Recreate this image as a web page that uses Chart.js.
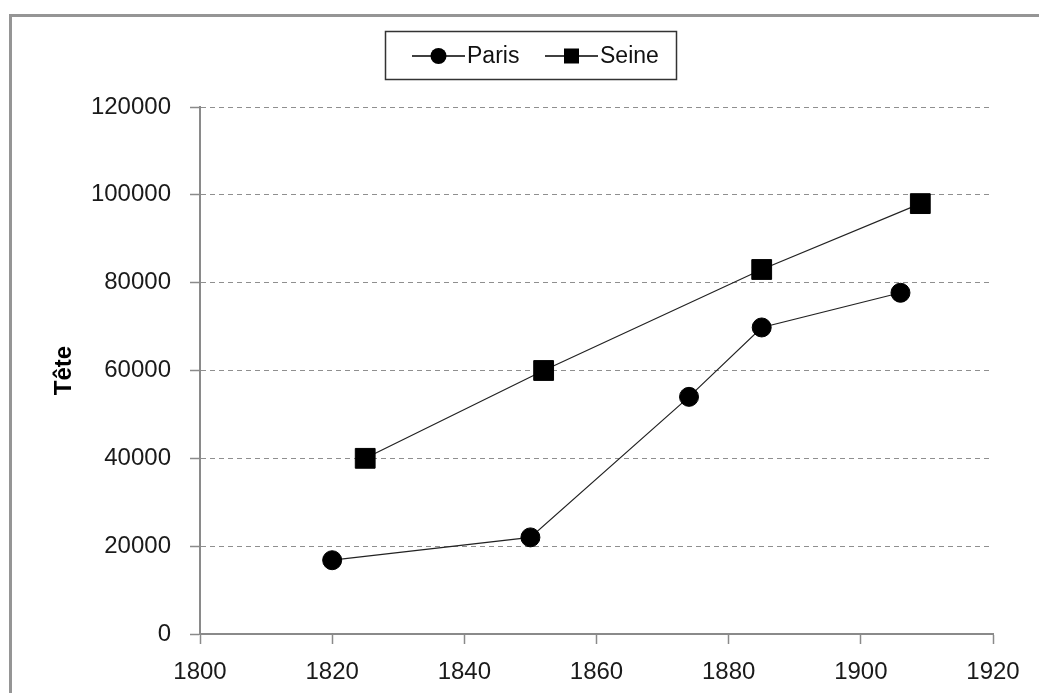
<!DOCTYPE html>
<html>
<head>
<meta charset="utf-8">
<script src="https://cdn.jsdelivr.net/npm/chart.js@4/dist/chart.umd.min.js"></script>
<style>
  html, body { margin: 0; padding: 0; background: #fff; }
  #wrap { position: relative; width: 1039px; height: 693px; }
</style>
</head>
<body>
<div id="wrap"><canvas id="chart"></canvas></div>
<script>
const parisYears = [1820, 1850, 1874, 1885, 1906];
const parisValues = [16800, 22000, 54000, 69800, 77700];
const seineYears = [1825, 1852, 1885, 1909];
const seineValues = [40000, 60000, 83000, 98000];
const seriesNames = ['Paris', 'Seine'];
const yTitle = 'Tête';

const toPoints = (xs, ys) => xs.map((x, i) => ({x: x, y: ys[i]}));

// grey frame on top and left, and the boxed legend
const decor = {
  id: 'decor',
  beforeDraw(chart) {
    const ctx = chart.ctx;
    ctx.save();
    ctx.strokeStyle = '#959595';
    ctx.lineWidth = 3;
    ctx.beginPath();
    ctx.moveTo(10.5, 700);
    ctx.lineTo(10.5, 15.5);
    ctx.lineTo(1045, 15.5);
    ctx.stroke();
    ctx.restore();
  },
  afterDraw(chart) {
    const ctx = chart.ctx;
    ctx.save();
    ctx.strokeStyle = '#333';
    ctx.lineWidth = 1.5;
    ctx.strokeRect(385.5, 31.5, 291, 48);

    const items = [
      {x: 412, style: 'circle', r: 8, text: seriesNames[0]},
      {x: 545, style: 'rect', r: 7.5, text: seriesNames[1]},
    ];
    const cy = 56;
    ctx.font = '23px "Liberation Sans", Arial, sans-serif';
    ctx.textBaseline = 'middle';
    items.forEach(it => {
      ctx.strokeStyle = '#000';
      ctx.lineWidth = 1.3;
      ctx.beginPath();
      ctx.moveTo(it.x, cy);
      ctx.lineTo(it.x + 53, cy);
      ctx.stroke();
      ctx.fillStyle = '#000';
      const mx = it.x + 26.5;
      if (it.style === 'circle') {
        ctx.beginPath();
        ctx.arc(mx, cy, it.r, 0, Math.PI * 2);
        ctx.fill();
      } else {
        ctx.fillRect(mx - it.r, cy - it.r, it.r * 2, it.r * 2);
      }
      ctx.fillStyle = '#111';
      ctx.fillText(it.text, it.x + 55, cy + 1);
    });
    ctx.restore();
  },
};

const ctx = document.getElementById('chart').getContext('2d');
new Chart(ctx, {
  type: 'line',
  data: {
    datasets: [
      {
        label: seriesNames[0],
        data: toPoints(parisYears, parisValues),
        borderColor: '#222',
        borderWidth: 1.2,
        pointStyle: 'circle',
        pointRadius: 9.5,
        pointBorderWidth: 1,
        pointBackgroundColor: '#000',
        pointBorderColor: '#000',
        fill: false,
        tension: 0,
      },
      {
        label: seriesNames[1],
        data: toPoints(seineYears, seineValues),
        borderColor: '#222',
        borderWidth: 1.2,
        pointStyle: 'rect',
        pointRadius: 14,
        pointBorderWidth: 1,
        pointBackgroundColor: '#000',
        pointBorderColor: '#000',
        fill: false,
        tension: 0,
      },
    ],
  },
  options: {
    responsive: true,
    maintainAspectRatio: false,
    animation: false,
    layout: {
      padding: {top: 107, right: 46, bottom: 0, left: 0},
    },
    plugins: {
      legend: {display: false},
      tooltip: {enabled: false},
    },
    scales: {
      x: {
        type: 'linear',
        min: 1800,
        max: 1920,
        afterFit(scale) { scale.height = 59; },
        ticks: {
          stepSize: 20,
          padding: 14,
          color: '#1a1a1a',
          font: {family: '"Liberation Sans", Arial, sans-serif', size: 24},
          callback: v => String(v),
        },
        grid: {
          drawOnChartArea: false,
          drawTicks: true,
          tickLength: 10,
          tickColor: '#8a8a8a',
          tickWidth: 1.5,
        },
        border: {color: '#8a8a8a', width: 2},
      },
      y: {
        min: 0,
        max: 120000,
        afterFit(scale) { scale.width = 200; },
        ticks: {
          stepSize: 20000,
          padding: 19,
          color: '#1a1a1a',
          font: {family: '"Liberation Sans", Arial, sans-serif', size: 24},
          callback: v => String(v),
        },
        grid: {
          color: '#8f8f8f',
          lineWidth: 1,
          tickLength: 10,
          tickColor: '#8a8a8a',
          tickWidth: 1.5,
          tickBorderDash: [1, 0],
        },
        border: {color: '#8a8a8a', width: 2, dash: [5, 4]},
        title: {
          display: true,
          text: yTitle,
          color: '#000',
          padding: {top: 50, bottom: 0},
          font: {family: '"Liberation Sans", Arial, sans-serif', size: 24, weight: 'bold'},
        },
      },
    },
  },
  plugins: [decor],
});
</script>
</body>
</html>
